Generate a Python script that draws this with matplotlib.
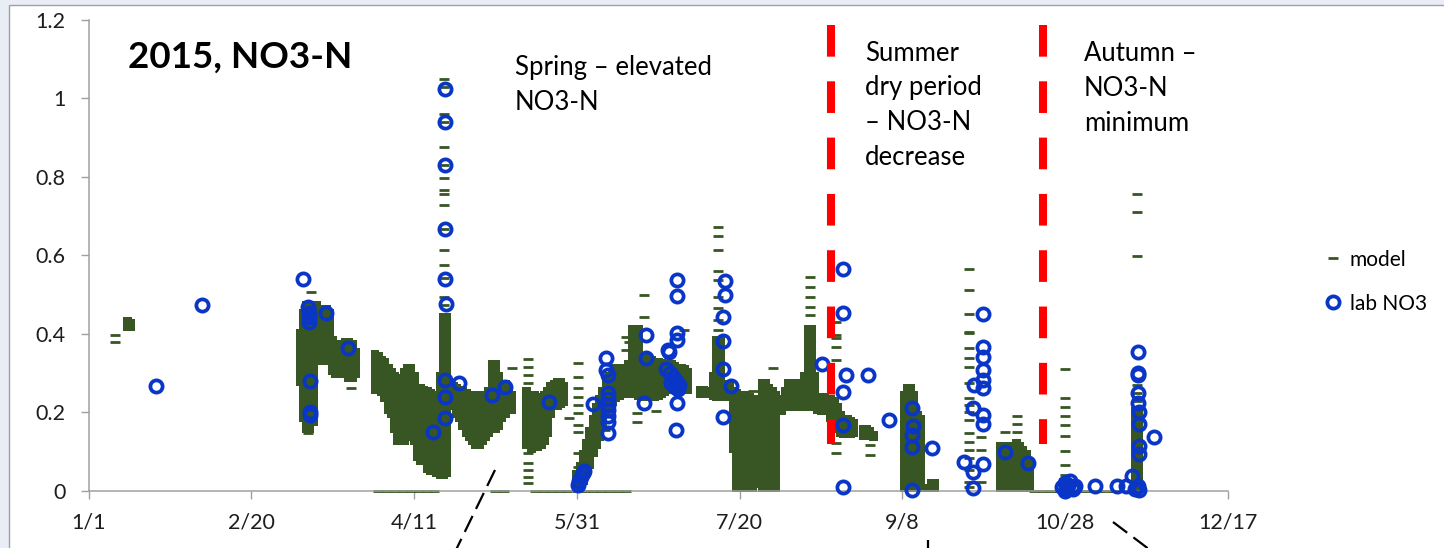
import matplotlib
matplotlib.use("Agg")
import matplotlib.pyplot as plt
from matplotlib.patches import Rectangle
from matplotlib.lines import Line2D

# ---------------- data (day of year 2015, Jan 1 = 0) ----------------
tick_days = [0, 50, 100, 150, 200, 250, 300, 350]
tick_labels = ["1/1", "2/20", "4/11", "5/31", "7/20", "9/8", "10/28", "12/17"]
ytick_vals = [0, 0.2, 0.4, 0.6, 0.8, 1.0, 1.2]
ytick_labels = ["0", "0.2", "0.4", "0.6", "0.8", "1", "1.2"]

# model: daily min / max of the dense sub-daily output
model_day = [12, 13,
             65, 66, 67, 68, 69, 70, 71, 72, 73, 74, 75, 76, 77, 78, 79, 80, 81, 82,
             88, 89, 90, 91, 92, 93, 94, 95, 96, 97, 98, 99, 100, 101, 102, 103, 104, 105, 106, 107,
             108, 109, 110, 111, 112, 113, 114, 115, 116, 117, 118, 119, 120, 121, 122, 123, 124,
             125, 126, 127, 128, 129, 130,
             134.5, 136, 137, 138, 139, 140, 141, 142, 143, 144, 145, 146,
             150, 151, 152, 153, 154, 155, 156, 157, 158, 159, 160, 161, 162, 163, 164, 165, 166,
             167, 168, 169, 170, 171, 172, 173, 174, 175, 176, 177, 178, 179, 180, 181, 182, 183, 184,
             188, 189, 190, 191, 192, 193, 194, 195, 196, 197, 198, 199, 200, 201, 202, 203, 204, 205,
             207, 208, 209, 210, 211, 212, 213, 214, 215, 216, 217, 218, 219, 220, 221, 222, 223,
             224, 225, 226, 227, 228, 229, 230, 231, 232, 233, 234, 235,
             238, 239, 240, 241,
             250.5, 251.5, 252.5, 253.5, 254.5, 255.5, 257, 258, 259, 260,
             280, 281, 282, 283, 284, 285, 286, 287, 288, 289,
             299.5, 300.5, 321.5, 322.5]
model_lo = [0.41, 0.41,
            0.27, 0.18, 0.15, 0.15, 0.17, 0.33, 0.33, 0.325, 0.325, 0.33, 0.30, 0.29, 0.29, 0.30, 0.29, 0.28, 0.28, 0.29,
            0.25, 0.25, 0.245, 0.23, 0.20, 0.19, 0.15, 0.12, 0.12, 0.12, 0.13, 0.14, 0.12, 0.08, 0.07, 0.07, 0.05, 0.045, 0.045, 0.04,
            0.035, 0.035, 0.04, 0.21, 0.21, 0.19, 0.18, 0.16, 0.14, 0.13, 0.12, 0.11, 0.11, 0.12, 0.13, 0.14, 0.15,
            0.15, 0.16, 0.18, 0.19, 0.20, 0.20,
            0.11, 0.10, 0.105, 0.105, 0.11, 0.12, 0.14, 0.19, 0.21, 0.21, 0.215, 0.22,
            0.0, 0.005, 0.02, 0.04, 0.06, 0.09, 0.11, 0.13, 0.16, 0.19, 0.21, 0.22, 0.23, 0.235, 0.24, 0.24, 0.24,
            0.24, 0.24, 0.235, 0.232, 0.232, 0.232, 0.232, 0.232, 0.235, 0.24, 0.245, 0.25, 0.25, 0.25, 0.25, 0.25, 0.25, 0.25,
            0.24, 0.24, 0.24, 0.24, 0.235, 0.232, 0.232, 0.232, 0.232, 0.232, 0.10, 0.0, 0.0, 0.0, 0.0, 0.0, 0.0, 0.01,
            0.0, 0.0, 0.0, 0.0, 0.0, 0.198, 0.198, 0.206, 0.206, 0.206, 0.206, 0.206, 0.206, 0.206, 0.206, 0.206, 0.206,
            0.20, 0.198, 0.198, 0.198, 0.18, 0.17, 0.15, 0.14, 0.138, 0.138, 0.138, 0.14,
            0.134, 0.134, 0.134, 0.13,
            0.0, 0.0, 0.0, 0.0, 0.0, 0.0, 0.0, 0.0, 0.0, 0.0,
            0.0, 0.0, 0.0, 0.0, 0.0, 0.0, 0.0, 0.0, 0.0, 0.0,
            0.0, 0.0, 0.0, 0.0]
model_hi = [0.44, 0.435,
            0.41, 0.46, 0.48, 0.48, 0.48, 0.48, 0.47, 0.47, 0.47, 0.46, 0.39, 0.38, 0.36, 0.38, 0.385, 0.385, 0.38, 0.36,
            0.355, 0.35, 0.34, 0.335, 0.32, 0.31, 0.30, 0.295, 0.29, 0.31, 0.32, 0.32, 0.30, 0.27, 0.27, 0.265, 0.26, 0.255, 0.25, 0.25,
            0.30, 0.45, 0.45, 0.28, 0.275, 0.27, 0.265, 0.26, 0.255, 0.25, 0.25, 0.25, 0.25, 0.25, 0.25, 0.26, 0.33,
            0.33, 0.30, 0.28, 0.28, 0.265, 0.25,
            0.26, 0.25, 0.25, 0.245, 0.245, 0.25, 0.26, 0.275, 0.28, 0.285, 0.285, 0.275,
            0.05, 0.07, 0.10, 0.13, 0.16, 0.19, 0.22, 0.24, 0.26, 0.28, 0.30, 0.31, 0.32, 0.32, 0.32, 0.32, 0.33,
            0.42, 0.42, 0.42, 0.35, 0.345, 0.34, 0.34, 0.335, 0.335, 0.333, 0.33, 0.33, 0.33, 0.325, 0.32, 0.32, 0.316, 0.31,
            0.265, 0.265, 0.26, 0.26, 0.30, 0.39, 0.39, 0.28, 0.28, 0.275, 0.26, 0.257, 0.25, 0.25, 0.25, 0.245, 0.24, 0.24,
            0.282, 0.282, 0.27, 0.26, 0.25, 0.24, 0.24, 0.26, 0.282, 0.282, 0.282, 0.282, 0.26, 0.30, 0.418, 0.418, 0.30,
            0.24, 0.245, 0.245, 0.24, 0.24, 0.235, 0.22, 0.20, 0.19, 0.19, 0.185, 0.18,
            0.165, 0.165, 0.16, 0.15,
            0.25, 0.27, 0.27, 0.25, 0.20, 0.19, 0.015, 0.015, 0.028, 0.028,
            0.12, 0.12, 0.12, 0.11, 0.12, 0.13, 0.12, 0.11, 0.10, 0.08,
            0.03, 0.03, 0.21, 0.21]

# model: isolated values outside the dense bands
model_pt_day = [8, 8,
                67.4, 68.4, 80.5,
                109.2, 109.2, 109.2, 109.2, 109.2, 109.2, 109.2, 109.2, 109.2, 109.2, 109.2, 109.2, 109.2,
                109.2, 109.2, 109.2, 130.2,
                135, 135, 135, 135, 135, 135, 135, 135, 135, 147.5,
                150.5, 150.5, 150.5, 150.5, 150.5, 150.5, 150.5, 150.5, 150.5, 150.5,
                157.5, 158.5, 165, 166, 165, 170.6, 170.6, 168.5, 168.5, 174.2, 182.9, 183.5, 188.3,
                193.5, 193.5, 193.5, 193.5, 193.5, 193.5, 193.5, 193.5, 193.5, 204, 210.3,
                221.5, 221.5, 221.5, 221.5, 221.5,
                229.5, 229.5, 229.5, 229.5, 229.5, 229.5, 229.5, 240, 240,
                270.5, 270.5, 270.5, 270.5, 270.5, 270.5, 270.5, 270.5, 270.5, 270.5,
                270.5, 270.5, 270.5, 270.5, 270.5, 270.5, 270.5, 270.5, 270.5, 270.5,
                274, 274, 274, 281.5, 285.3, 285.3, 285.3,
                300, 300, 300, 300, 300, 300, 300, 300, 300,
                322, 322, 322, 322, 322, 322,
                89, 91.5, 94, 96.5, 99, 101.5, 104, 106, 125, 127.5,
                137, 139.5, 142, 144.5, 147, 150, 152.5, 155, 157.5, 160, 162.5, 165,
                290.5, 293, 295.5, 298, 305, 307.5, 310, 312.5, 315, 317.5, 320]
model_pt_val = [0.398, 0.38,
                0.148, 0.507, 0.262,
                1.049, 1.027, 0.96, 0.938, 0.876, 0.829, 0.796, 0.765, 0.756, 0.729, 0.667, 0.614, 0.574,
                0.541, 0.494, 0.474, 0.312,
                0.335, 0.316, 0.295, 0.274, 0.096, 0.07, 0.053, 0.036, 0.02, 0.186,
                0.325, 0.29, 0.262, 0.24, 0.219, 0.198, 0.168, 0.151, 0.096, 0.062,
                0.17, 0.155, 0.393, 0.38, 0.359, 0.499, 0.444, 0.198, 0.176, 0.204, 0.41, 0.31, 0.249,
                0.672, 0.649, 0.613, 0.56, 0.537, 0.494, 0.465, 0.435, 0.41, 0.255, 0.314,
                0.544, 0.518, 0.494, 0.468, 0.447,
                0.43, 0.397, 0.389, 0.367, 0.333, 0.121, 0.096, 0.118, 0.091,
                0.564, 0.511, 0.45, 0.405, 0.401, 0.363, 0.338, 0.316, 0.274, 0.236,
                0.219, 0.202, 0.181, 0.147, 0.125, 0.104, 0.083, 0.053, 0.024, 0.011,
                0.138, 0.104, 0.024, 0.151, 0.19, 0.17, 0.151,
                0.31, 0.236, 0.214, 0.191, 0.169, 0.14, 0.103, 0.067, 0.04,
                0.757, 0.711, 0.598, 0.27, 0.25, 0.23,
                0, 0, 0, 0, 0, 0, 0, 0, 0, 0,
                0, 0, 0, 0, 0, 0, 0, 0, 0, 0, 0, 0,
                0, 0, 0, 0, 0, 0, 0, 0, 0, 0, 0]

# lab NO3 samples
lab_day = [20.6, 34.8, 66.0, 67.5, 67.6, 67.6, 67.6, 67.9, 67.9, 68.1, 73.0, 79.8,
           105.8, 109.5, 109.5, 109.5, 109.5, 109.5, 109.8, 109.5, 109.5, 109.5, 113.9,
           123.8, 128.0, 141.5,
           150.2, 150.6, 151.2, 151.8, 152.2, 154.9,
           158.9, 158.9, 159.7, 159.5, 159.5, 159.6, 159.5, 159.6, 159.5, 159.5,
           171.2, 171.2, 170.6, 178.1, 178.3, 180.7, 180.7, 180.7, 180.7,
           177.5, 178.5, 179.5, 180.5, 181.5, 179.0, 180.0, 181.0, 180.9, 180.6,
           195.5, 195.5, 195.0, 195.0, 195.0, 197.4, 195.0,
           225.3, 231.7, 231.7, 232.7, 231.7, 231.7, 231.7, 239.5, 245.8,
           252.8, 253.2, 253.0, 253.0, 253.0, 259.0,
           268.8, 271.6, 271.6, 271.6, 271.9, 274.8, 274.9, 274.6, 274.6, 274.6, 274.6, 274.8, 274.9, 274.6,
           281.4, 288.5,
           299.0, 300.0, 300.5, 301.0, 301.5, 302.0, 302.5, 303.0, 300.0,
           309.2, 315.8, 318.6, 320.4, 321.5, 322.3, 322.8,
           322.5, 322.5, 322.5, 322.5, 322.8, 322.6, 322.6, 322.8, 322.5, 327.4]
lab_val = [0.267, 0.474, 0.540, 0.468, 0.453, 0.442, 0.431, 0.279, 0.200, 0.193, 0.452, 0.363,
           0.151, 1.024, 0.938, 0.829, 0.667, 0.540, 0.475, 0.282, 0.240, 0.186, 0.274,
           0.244, 0.264, 0.227,
           0.015, 0.025, 0.035, 0.045, 0.050, 0.221,
           0.338, 0.307, 0.294, 0.250, 0.235, 0.220, 0.205, 0.190, 0.175, 0.148,
           0.398, 0.338, 0.225, 0.358, 0.354, 0.536, 0.497, 0.401, 0.384,
           0.310, 0.300, 0.290, 0.280, 0.270, 0.275, 0.265, 0.260, 0.225, 0.155,
           0.534, 0.500, 0.444, 0.382, 0.310, 0.267, 0.189,
           0.322, 0.564, 0.452, 0.295, 0.253, 0.168, 0.009, 0.295, 0.180,
           0.210, 0.165, 0.142, 0.112, 0.003, 0.110,
           0.075, 0.049, 0.007, 0.210, 0.270, 0.193, 0.170, 0.450, 0.367, 0.342, 0.308, 0.282, 0.261, 0.069,
           0.098, 0.070,
           0.010, 0.020, 0.005, 0.015, 0.025, 0.010, 0.005, 0.012, 0.000,
           0.013, 0.013, 0.013, 0.038, 0.005, 0.012, 0.002,
           0.354, 0.301, 0.249, 0.223, 0.202, 0.171, 0.115, 0.094, 0.295, 0.137]

# season boundaries
season_days = [228.0, 293.2]

# ---------------- drawing ----------------
W, H = 1444, 548
fig = plt.figure(figsize=(W / 100, H / 100), dpi=100, facecolor="#e9eef6")


def fx(px):
    return px / W


def fy(py):
    return 1 - py / H


# white slide panel with thin grey border
fig.add_artist(Rectangle((fx(9.3), -0.1), 1.2, fy(5) + 0.1, transform=fig.transFigure,
                         facecolor="white", edgecolor="#a0a0a0", linewidth=1.0, zorder=0))

ax = fig.add_axes([fx(88.5), fy(491), fx(1228) - fx(88.5), fy(19.5) - fy(491)])
ax.set_facecolor("none")

GREEN = "#375623"
BLUE = "#0a36c8"
GREY = "#a0a0a0"

# dense model output as day-wide bands (dash-height padding at both ends)
pad = 0.0035
ax.bar(model_day, [h - l + 2 * pad for l, h in zip(model_lo, model_hi)],
       bottom=[l - pad for l in model_lo], width=2.75, color=GREEN, linewidth=0,
       zorder=2, clip_on=False)
model_line, = ax.plot(model_pt_day, model_pt_val, linestyle="none", marker="_",
                      markersize=6.5, markeredgewidth=2.0, color=GREEN, zorder=2,
                      clip_on=False, label="model")
lab_line, = ax.plot(lab_day, lab_val, linestyle="none", marker="o", markersize=8.8,
                    markerfacecolor="none", markeredgecolor=BLUE, markeredgewidth=2.7,
                    zorder=3, clip_on=False, label="lab NO3")

for d in season_days:
    ax.plot([d, d], [1.185, 0.119], color="#ff0000", linewidth=5.8,
            linestyle=(0, (3.93, 3.06)), dash_capstyle="butt", zorder=4)

ax.set_xlim(0, 350)
ax.set_ylim(0, 1.2)
ax.set_xticks(tick_days)
ax.set_xticklabels(tick_labels)
ax.set_yticks(ytick_vals)
ax.set_yticklabels(ytick_labels)
for s in ("top", "right"):
    ax.spines[s].set_visible(False)
for s in ("left", "bottom"):
    ax.spines[s].set_color(GREY)
    ax.spines[s].set_linewidth(1.1)
ax.tick_params(axis="both", direction="out", length=5.7, width=1.0, color=GREY,
               labelsize=15.5, labelcolor="#1e1e1e")
ax.tick_params(axis="y", pad=11)
ax.tick_params(axis="x", pad=10)
for lab in ax.get_xticklabels() + ax.get_yticklabels():
    lab.set_family("Lato")

# legend
fig.legend(handles=[model_line, lab_line], labels=["model", "lab NO3"],
           loc="upper left", bbox_to_anchor=(fx(1306), fy(231)), frameon=False,
           handlelength=0.75, handletextpad=0.45, labelspacing=1.15,
           prop={"family": "Lato", "size": 15})

# text annotations
fig.text(fx(127.7), fy(68), "2015, NO3-N", family="Lato", weight="bold", fontsize=26.5,
         va="baseline", ha="left")
notes = [
    (515, [(75, "Spring – elevated"), (110, "NO3-N")]),
    (865, [(61, "Summer"), (95, "dry period"), (130, "– NO3-N"), (165, "decrease")]),
    (1084, [(61, "Autumn –"), (96, "NO3-N"), (131, "minimum")]),
]
for x0, lines in notes:
    for yb, txt in lines:
        fig.text(fx(x0), fy(yb), txt, family="Lato", fontsize=18.5, va="baseline", ha="left")

# callout connectors running off the bottom of the panel
callouts = [((495, 470), (453, 556)), ((928.3, 540), (928.3, 560)), ((1113, 522), (1158, 556))]
for (x1, y1), (x2, y2) in callouts:
    fig.add_artist(Line2D([fx(x1), fx(x2)], [fy(y1), fy(y2)], transform=fig.transFigure,
                          color="black", linewidth=1.6, linestyle=(0, (8, 3.5)), zorder=5))

fig.savefig("out.png", dpi=100, facecolor=fig.get_facecolor())
